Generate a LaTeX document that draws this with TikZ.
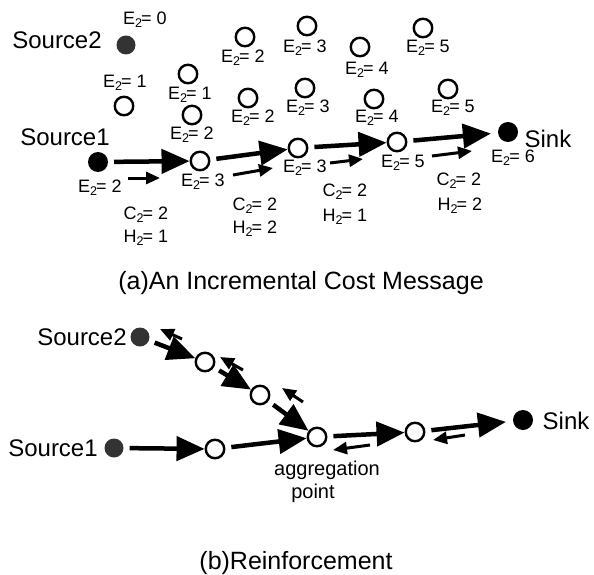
\documentclass[tikz,border=0pt]{standalone}
\usepackage{fontspec}
\setmainfont{Liberation Sans}
\usetikzlibrary{arrows.meta}
\newcommand{\costlab}[2]{#1\textsubscript{2}\kern-1.5pt= #2}
\tikzset{
  sensor/.style={circle,draw,line width=2.4pt,minimum size=18.5pt,inner sep=0pt},
  endpt/.style={circle,fill=black,minimum size=20pt,inner sep=0pt},
  srcpt/.style={circle,fill=black!80,minimum size=19pt,inner sep=0pt},
  sitetxt/.style={font=\fontsize{24}{26}\selectfont,inner sep=0pt},
  costtxt/.style={font=\fontsize{18}{20}\selectfont,inner sep=0pt},
  captxt/.style={font=\fontsize{25}{28}\selectfont,inner sep=0pt},
  flow/.style={line width=4.5pt,-{Triangle[length=28pt,width=24pt]},shorten <=6pt},
  msg/.style={line width=3pt,-{Triangle[length=14pt,width=12pt]}}
}
\begin{document}
\begin{tikzpicture}[x=1pt,y=-1pt]
\useasboundingbox (0,0) rectangle (594,575);
% (a) incremental cost message
\node [srcpt] (srcA2) at (126,45) {};
\node [sitetxt] (srcA2t) at (57,40) {Source2};
\node [costtxt] (e0) at (145,20) {\costlab{E}{0}};
\node [endpt] (srcA1) at (98,162) {};
\node [sitetxt] (srcA1t) at (65,137) {Source1};
\node [sensor] (nA1) at (200,161) {};
\node [sensor] (nA2) at (298,148) {};
\node [sensor] (nA3) at (397,142) {};
\node [endpt] (sinkA) at (508,132) {};
\node [sitetxt] (sinkAt) at (548,139) {Sink};
\node [costtxt] (eA0) at (100,188) {\costlab{E}{2}};
\node [costtxt] (eA1) at (203,182) {\costlab{E}{3}};
\node [costtxt] (eA2) at (305,168) {\costlab{E}{3}};
\node [costtxt] (eA3) at (403,163) {\costlab{E}{5}};
\node [costtxt] (eA4) at (513,158) {\costlab{E}{6}};
\node [sensor] (f1) at (124,106) {};
\node [costtxt] (ef1) at (125,83) {\costlab{E}{1}};
\node [sensor] (f2) at (188,74) {};
\node [costtxt] (ef2) at (190,95) {\costlab{E}{1}};
\node [sensor] (f3) at (192,115) {};
\node [costtxt] (ef3) at (192,135) {\costlab{E}{2}};
\node [sensor] (f4) at (245,37) {};
\node [costtxt] (ef4) at (243,58) {\costlab{E}{2}};
\node [sensor] (f5) at (248,98) {};
\node [costtxt] (ef5) at (253,118) {\costlab{E}{2}};
\node [sensor] (f6) at (307,26) {};
\node [costtxt] (ef6) at (305,48) {\costlab{E}{3}};
\node [sensor] (f7) at (305,88) {};
\node [costtxt] (ef7) at (308,108) {\costlab{E}{3}};
\node [sensor] (f8) at (360,47) {};
\node [costtxt] (ef8) at (367,70) {\costlab{E}{4}};
\node [sensor] (f9) at (374,99) {};
\node [costtxt] (ef9) at (377,118) {\costlab{E}{4}};
\node [sensor] (f10) at (423,28) {};
\node [costtxt] (ef10) at (428,48) {\costlab{E}{5}};
\node [sensor] (f11) at (448,89) {};
\node [costtxt] (ef11) at (453,108) {\costlab{E}{5}};
\node [costtxt] (cA1) at (146,215) {\costlab{C}{2}};
\node [costtxt] (hA1) at (146,238) {\costlab{H}{1}};
\node [costtxt] (cA2) at (255,206) {\costlab{C}{2}};
\node [costtxt] (hA2) at (255,229) {\costlab{H}{2}};
\node [costtxt] (cA3) at (345,192) {\costlab{C}{2}};
\node [costtxt] (hA3) at (345,217) {\costlab{H}{1}};
\node [costtxt] (cA4) at (459,181) {\costlab{C}{2}};
\node [costtxt] (hA4) at (460,206) {\costlab{H}{2}};
\draw [flow] (srcA1) -- (nA1);
\draw [flow] (nA1) -- (nA2);
\draw [flow] (nA2) -- (nA3);
\draw [flow,shorten >=7pt] (nA3) -- (sinkA);
\coordinate (mA1s) at (128,178); \coordinate (mA1e) at (160,178);
\coordinate (mA2s) at (233,175); \coordinate (mA2e) at (273,168);
\coordinate (mA3s) at (330,163); \coordinate (mA3e) at (363,159);
\coordinate (mA4s) at (432,156); \coordinate (mA4e) at (472,151);
\draw [msg] (mA1s) -- (mA1e);
\draw [msg] (mA2s) -- (mA2e);
\draw [msg] (mA3s) -- (mA3e);
\draw [msg] (mA4s) -- (mA4e);
\node [captxt] (capA) at (301,283) {(a)An Incremental Cost Message};
% (b) reinforcement
\node [srcpt] (srcB2) at (140,337) {};
\node [sitetxt] (srcB2t) at (82,337) {Source2};
\node [srcpt] (srcB1) at (114,448) {};
\node [sitetxt] (srcB1t) at (53,448) {Source1};
\node [sensor] (nB1) at (205,362) {};
\node [sensor] (nB2) at (260,395) {};
\node [sensor] (nB4) at (215,449) {};
\node [sensor] (agg) at (317,437) {};
\node [sensor] (nB5) at (415,432) {};
\node [endpt] (sinkB) at (523,420) {};
\node [sitetxt] (sinkBt) at (566,421) {Sink};
\node [font=\fontsize{20}{22}\selectfont,inner sep=0pt] (aggt1) at (327,470) {aggregation};
\node [font=\fontsize{20}{22}\selectfont,inner sep=0pt] (aggt2) at (313,493) {point};
\draw [flow] (srcB2) -- (nB1);
\draw [flow] (nB1) -- (nB2);
\draw [flow] (nB2) -- (agg);
\draw [flow] (srcB1) -- (nB4);
\draw [flow] (nB4) -- (agg);
\draw [flow] (agg) -- (nB5);
\draw [flow,shorten >=7pt] (nB5) -- (sinkB);
\coordinate (rB1s) at (182,339); \coordinate (rB1e) at (160,329);
\coordinate (rB2s) at (243,370); \coordinate (rB2e) at (220,357);
\coordinate (rB3s) at (303,402); \coordinate (rB3e) at (282,388);
\coordinate (rB4s) at (370,445); \coordinate (rB4e) at (333,450);
\coordinate (rB5s) at (465,435); \coordinate (rB5e) at (433,440);
\draw [msg] (rB1s) -- (rB1e);
\draw [msg] (rB2s) -- (rB2e);
\draw [msg] (rB3s) -- (rB3e);
\draw [msg] (rB4s) -- (rB4e);
\draw [msg] (rB5s) -- (rB5e);
\node [captxt] (capB) at (296,563) {(b)Reinforcement};
\end{tikzpicture}
\end{document}
